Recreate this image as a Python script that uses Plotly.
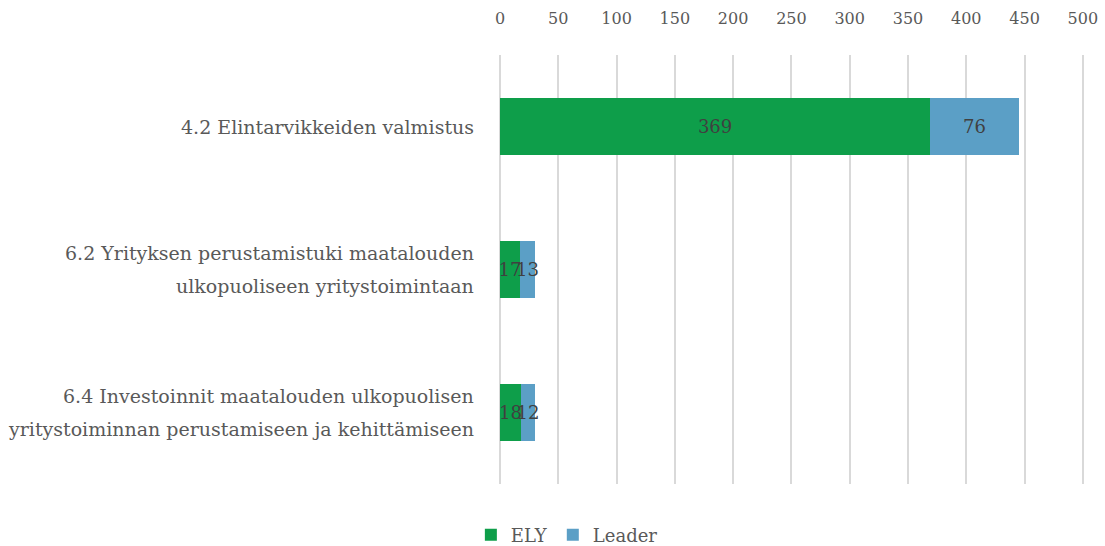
import plotly.graph_objects as go

categories = [
    "4.2 Elintarvikkeiden valmistus",
    "6.2 Yrityksen perustamistuki maatalouden<br>ulkopuoliseen yritystoimintaan",
    "6.4 Investoinnit maatalouden ulkopuolisen<br>yritystoiminnan perustamiseen ja kehittämiseen",
]
ely = [369, 17, 18]
leader = [76, 13, 12]
x_ticks = [0, 50, 100, 150, 200, 250, 300, 350, 400, 450, 500]

FONT = "DejaVu Serif"
GREEN = "#0E9E4A"
BLUE = "#5B9FC6"

fig = go.Figure()
for name, vals, color in (("ELY", ely, GREEN), ("Leader", leader, BLUE)):
    fig.add_trace(go.Bar(
        y=categories, x=vals, name=name, orientation="h",
        marker=dict(color=color, line=dict(width=0)),
        text=[str(v) for v in vals], textposition="inside", insidetextanchor="middle",
        textangle=0, constraintext="none",
        textfont=dict(family=FONT, size=18, color="#404040"),
    ))

annotations = []
for cat in categories:
    lines = cat.split("<br>")
    n = len(lines)
    spacing = 33
    for i, line in enumerate(lines):
        shift = ((n - 1) / 2 - i) * spacing
        annotations.append(dict(
            x=0, xref="paper", xanchor="right", xshift=-24, y=cat, yref="y",
            yshift=shift, text=line, showarrow=False,
            font=dict(family=FONT, size=19, color="#595959"),
        ))

fig.update_layout(
    barmode="stack",
    bargap=0.6,
    width=1105, height=546,
    margin=dict(l=500, r=21, t=55, b=62, autoexpand=False),
    paper_bgcolor="white", plot_bgcolor="white",
    font=dict(family=FONT, size=17, color="#595959"),
    uniformtext=dict(minsize=18, mode="show"),
    xaxis=dict(
        range=[0, x_ticks[-1] * 1.002], tickvals=x_ticks, side="top", automargin=False,
        showgrid=True, gridcolor="#D9D9D9", gridwidth=2,
        zeroline=True, zerolinecolor="#D9D9D9", zerolinewidth=2,
        showline=False, ticks="", ticklabelstandoff=27,
        tickfont=dict(family=FONT, size=16, color="#595959"),
        fixedrange=True,
    ),
    yaxis=dict(
        categoryorder="array", categoryarray=categories, autorange="reversed",
        showticklabels=False, showgrid=False, zeroline=False, showline=False,
        automargin=False, fixedrange=True,
    ),
    legend=dict(
        orientation="h", xref="container", yref="container",
        x=0.513, xanchor="center", y=0.02, yanchor="middle",
        font=dict(family=FONT, size=18, color="#595959"),
        traceorder="normal", itemwidth=30,
    ),
    annotations=annotations,
)

fig.write_html("out.html", config={"displayModeBar": False},
               post_script="document.body.style.margin='0';")
